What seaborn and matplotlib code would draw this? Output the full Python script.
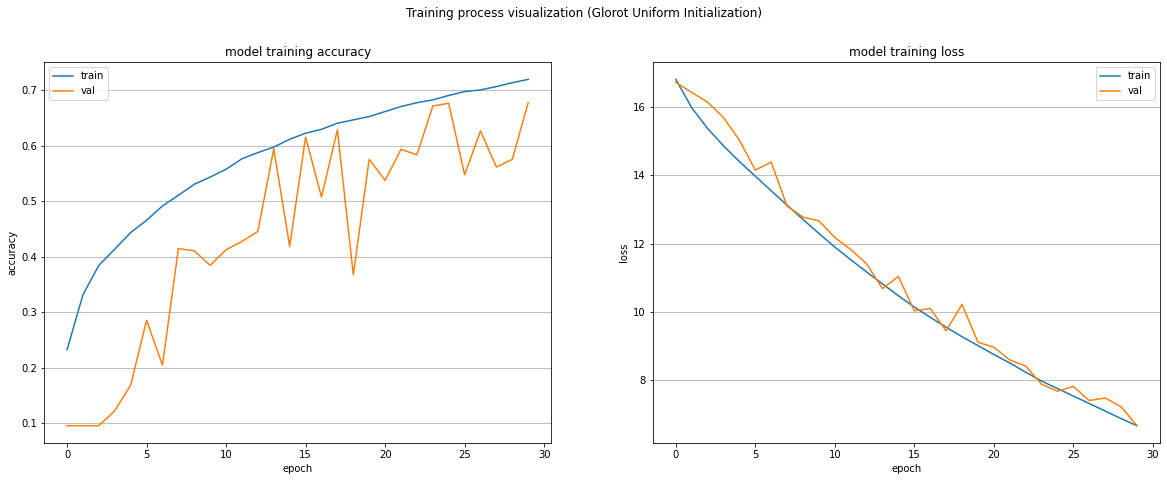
import numpy as np
import pandas as pd
import matplotlib
matplotlib.use("Agg")
import matplotlib.pyplot as plt
import seaborn as sns

# -------------------------------------------------
# Data
# -------------------------------------------------

epochs = list(range(30))

train_acc = [0.233, 0.332, 0.385, 0.414, 0.444, 0.466, 0.492, 0.511, 0.531, 0.544,
             0.558, 0.577, 0.588, 0.598, 0.612, 0.623, 0.630, 0.641, 0.647, 0.653,
             0.662, 0.671, 0.678, 0.683, 0.691, 0.698, 0.701, 0.707, 0.714, 0.720]
val_acc = [0.096, 0.096, 0.096, 0.123, 0.169, 0.286, 0.205, 0.415, 0.411, 0.385,
           0.413, 0.428, 0.446, 0.595, 0.419, 0.616, 0.508, 0.629, 0.368, 0.576,
           0.538, 0.594, 0.584, 0.672, 0.677, 0.548, 0.627, 0.562, 0.576, 0.678]

train_loss = [16.82, 15.99, 15.38, 14.87, 14.41, 13.98, 13.55, 13.13, 12.71, 12.30,
              11.90, 11.53, 11.17, 10.82, 10.47, 10.14, 9.84, 9.55, 9.27, 9.01,
              8.75, 8.50, 8.23, 7.97, 7.75, 7.53, 7.31, 7.09, 6.87, 6.66]
val_loss = [16.73, 16.44, 16.15, 15.70, 15.04, 14.16, 14.39, 13.10, 12.78, 12.67,
            12.18, 11.83, 11.41, 10.68, 11.04, 10.03, 10.10, 9.44, 10.22, 9.11,
            8.96, 8.59, 8.41, 7.88, 7.67, 7.81, 7.40, 7.47, 7.22, 6.66]

# -------------------------------------------------
# Plot
# -------------------------------------------------

fig, axes = plt.subplots(1, 2, figsize=(1167 / 72, 481 / 72), dpi=72)
fig.subplots_adjust(left=0.0377, right=0.994, bottom=0.079, top=0.871, wspace=0.2)

panels = [
    (axes[0], train_acc, val_acc, "model training accuracy", "accuracy", "upper left"),
    (axes[1], train_loss, val_loss, "model training loss", "loss", "upper right"),
]

for ax, tr, va, title, ylabel, loc in panels:
    sns.lineplot(x=epochs, y=tr, ax=ax, label="train", color="C0")
    sns.lineplot(x=epochs, y=va, ax=ax, label="val", color="C1")
    ax.set_title(title)
    ax.set_xlabel("epoch")
    ax.set_ylabel(ylabel)
    ax.grid(True, axis="y")
    ax.legend(loc=loc)

fig.suptitle("Training process visualization (Glorot Uniform Initialization)", y=0.985)

fig.savefig("out.png", dpi=72)
